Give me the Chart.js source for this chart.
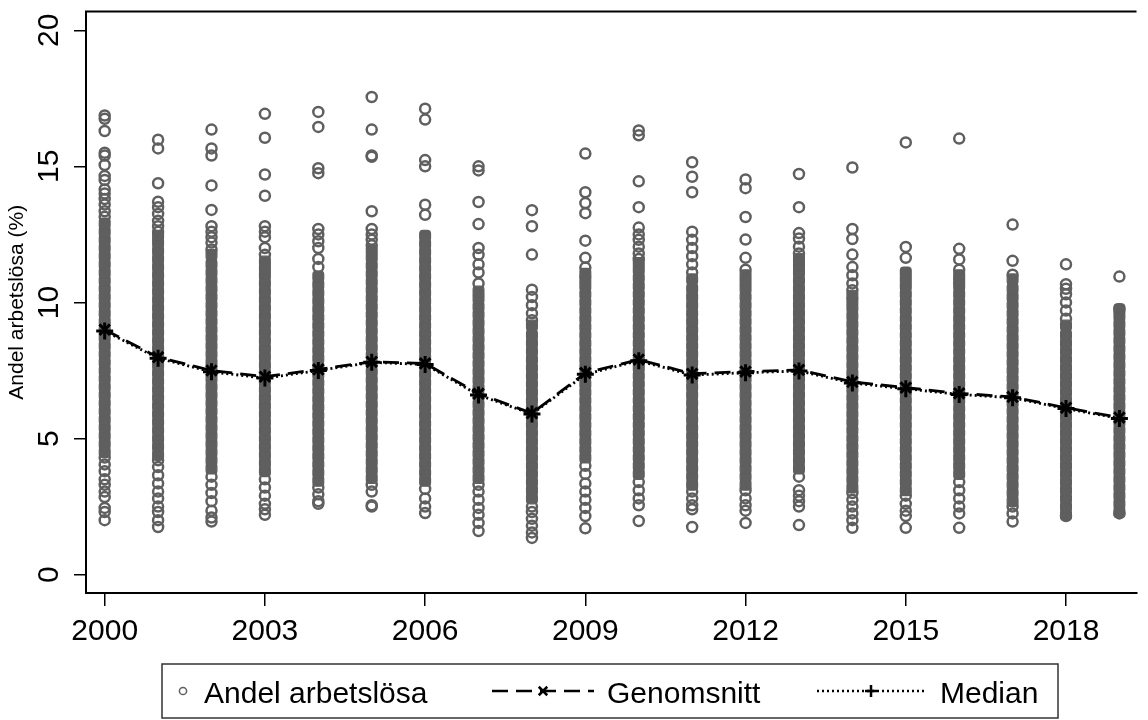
<!DOCTYPE html>
<html>
<head>
<meta charset="utf-8">
<script src="https://cdn.jsdelivr.net/npm/chart.js@4.4.1/dist/chart.umd.min.js"></script>
<style>
  html, body { margin: 0; padding: 0; background: #fff; }
</style>
</head>
<body>
<canvas id="chart" width="1148" height="720"></canvas>
<script>
const years = [2000, 2001, 2002, 2003, 2004, 2005, 2006, 2007, 2008, 2009,
               2010, 2011, 2012, 2013, 2014, 2015, 2016, 2017, 2018, 2019];

const meanRate   = [9.0, 7.99, 7.5, 7.27, 7.54, 7.82, 7.76, 6.65, 5.93, 7.41,
                    7.9, 7.38, 7.46, 7.52, 7.08, 6.87, 6.66, 6.53, 6.13, 5.77];
const medianRate = [8.95, 7.95, 7.45, 7.22, 7.5, 7.8, 7.72, 6.6, 5.9, 7.36,
                    7.86, 7.33, 7.42, 7.48, 7.04, 6.83, 6.62, 6.5, 6.1, 5.74];

const xTickYears = [2000, 2003, 2006, 2009, 2012, 2015, 2018];
const yTickValues = [0, 5, 10, 15, 20];

// kommuner som ligger glest (toppar och bottnar), per år
const sparseRates = [
  [16.87, 16.75, 16.3, 15.5, 15.4, 15.05, 14.65, 14.5, 14.15, 14.0, 13.8, 13.6, 13.35, 13.15, 4.3, 4.05, 3.8, 3.5, 3.3, 3.05, 2.85, 2.45, 2.3, 2.0],
  [15.98, 15.66, 14.38, 13.7, 13.5, 13.25, 13.0, 12.8, 12.6, 4.2, 3.95, 3.65, 3.35, 3.05, 2.8, 2.5, 2.3, 2.0, 1.75],
  [16.35, 15.66, 15.4, 14.3, 13.4, 12.8, 12.6, 12.4, 12.2, 11.95, 3.6, 3.3, 3.0, 2.7, 2.35, 2.1, 1.95],
  [16.93, 16.05, 14.7, 13.92, 12.8, 12.6, 12.4, 12.0, 11.75, 3.5, 3.2, 2.9, 2.6, 2.4, 2.2],
  [17.0, 16.45, 14.93, 14.75, 12.7, 12.5, 12.25, 12.0, 11.6, 11.3, 3.2, 2.95, 2.7, 2.6],
  [17.55, 16.35, 15.4, 15.35, 13.35, 12.7, 12.5, 12.3, 12.1, 3.3, 3.05, 2.55, 2.5],
  [17.12, 16.72, 15.23, 15.0, 13.59, 13.22, 3.15, 2.8, 2.5, 2.26],
  [15.0, 14.85, 13.69, 12.88, 12.0, 11.75, 11.4, 11.1, 10.7, 3.3, 3.05, 2.75, 2.45, 2.2, 1.9, 1.6],
  [13.39, 12.8, 11.76, 10.47, 10.2, 9.9, 9.6, 9.35, 2.5, 2.3, 2.05, 1.8, 1.55, 1.35],
  [15.47, 14.05, 13.65, 13.28, 12.27, 11.64, 11.28, 4.0, 3.7, 3.35, 3.05, 2.75, 2.45, 2.15, 1.7],
  [16.32, 16.14, 14.45, 13.5, 12.75, 12.5, 12.3, 12.05, 11.8, 11.6, 3.4, 3.1, 2.8, 2.55, 1.97],
  [15.15, 14.62, 14.05, 12.6, 12.3, 12.0, 11.7, 11.4, 11.1, 3.05, 2.8, 2.55, 2.4, 1.75],
  [14.52, 14.2, 13.14, 12.31, 11.64, 11.2, 3.1, 2.8, 2.55, 2.35, 1.9],
  [14.72, 13.5, 12.55, 12.35, 12.05, 11.8, 3.6, 3.1, 2.9, 2.7, 2.5, 1.82],
  [14.96, 12.7, 12.33, 11.76, 11.3, 11.0, 10.7, 10.45, 3.0, 2.75, 2.5, 2.25, 2.0, 1.72],
  [15.88, 12.04, 11.64, 2.9, 2.6, 2.35, 2.15, 1.72],
  [16.02, 11.97, 11.58, 11.2, 3.4, 3.1, 2.8, 2.5, 2.25, 1.72],
  [12.86, 11.53, 11.02, 2.5, 2.25, 1.95],
  [11.4, 10.67, 10.5, 10.3, 10.0, 9.7, 9.4, 2.15],
  [10.95, 9.75, 2.25]
];

// den täta kärnan av kommuner, per år
const denseRates = [
  [4.5, 4.8, 5.1, 5.4, 5.7, 6.0, 6.3, 6.6, 6.9, 7.2, 7.5, 7.8, 8.1, 8.4, 8.7, 9.0, 9.3, 9.6, 9.9, 10.2, 10.5, 10.8, 11.1, 11.4, 11.7, 12.0, 12.3, 12.6, 12.9],
  [4.4, 4.7, 5.0, 5.3, 5.6, 5.9, 6.2, 6.5, 6.8, 7.1, 7.4, 7.7, 8.0, 8.3, 8.6, 8.9, 9.2, 9.5, 9.8, 10.1, 10.4, 10.7, 11.0, 11.3, 11.6, 11.9, 12.2, 12.45],
  [3.9, 4.2, 4.5, 4.8, 5.1, 5.4, 5.7, 6.0, 6.3, 6.6, 6.9, 7.2, 7.5, 7.8, 8.1, 8.4, 8.7, 9.0, 9.3, 9.6, 9.9, 10.2, 10.5, 10.8, 11.1, 11.4, 11.75],
  [3.8, 4.1, 4.4, 4.7, 5.0, 5.3, 5.6, 5.9, 6.2, 6.5, 6.8, 7.1, 7.4, 7.7, 8.0, 8.3, 8.6, 8.9, 9.2, 9.5, 9.8, 10.1, 10.4, 10.7, 11.0, 11.25, 11.5],
  [3.45, 3.75, 4.05, 4.35, 4.65, 4.95, 5.25, 5.55, 5.85, 6.15, 6.45, 6.75, 7.05, 7.35, 7.65, 7.95, 8.25, 8.55, 8.85, 9.15, 9.45, 9.75, 10.05, 10.35, 10.65, 10.95],
  [3.55, 3.85, 4.15, 4.45, 4.75, 5.05, 5.35, 5.65, 5.95, 6.25, 6.55, 6.85, 7.15, 7.45, 7.75, 8.05, 8.35, 8.65, 8.95, 9.25, 9.55, 9.85, 10.15, 10.45, 10.75, 11.05, 11.35, 11.65, 11.9],
  [3.45, 3.75, 4.05, 4.35, 4.65, 4.95, 5.25, 5.55, 5.85, 6.15, 6.45, 6.75, 7.05, 7.35, 7.65, 7.95, 8.25, 8.55, 8.85, 9.15, 9.45, 9.75, 10.05, 10.35, 10.65, 10.95, 11.25, 11.55, 11.85, 12.15, 12.45],
  [3.55, 3.85, 4.15, 4.45, 4.75, 5.05, 5.35, 5.65, 5.95, 6.25, 6.55, 6.85, 7.15, 7.45, 7.75, 8.05, 8.35, 8.65, 8.95, 9.25, 9.55, 9.85, 10.15, 10.4],
  [2.8, 3.1, 3.4, 3.7, 4.0, 4.3, 4.6, 4.9, 5.2, 5.5, 5.8, 6.1, 6.4, 6.7, 7.0, 7.3, 7.6, 7.9, 8.2, 8.5, 8.8, 9.15],
  [4.3, 4.6, 4.9, 5.2, 5.5, 5.8, 6.1, 6.4, 6.7, 7.0, 7.3, 7.6, 7.9, 8.2, 8.5, 8.8, 9.1, 9.4, 9.7, 10.0, 10.3, 10.6, 10.85, 11.05],
  [3.7, 4.0, 4.3, 4.6, 4.9, 5.2, 5.5, 5.8, 6.1, 6.4, 6.7, 7.0, 7.3, 7.6, 7.9, 8.2, 8.5, 8.8, 9.1, 9.4, 9.7, 10.0, 10.3, 10.6, 10.9, 11.2, 11.45],
  [3.3, 3.6, 3.9, 4.2, 4.5, 4.8, 5.1, 5.4, 5.7, 6.0, 6.3, 6.6, 6.9, 7.2, 7.5, 7.8, 8.1, 8.4, 8.7, 9.0, 9.3, 9.6, 9.9, 10.2, 10.5, 10.85],
  [3.3, 3.6, 3.9, 4.2, 4.5, 4.8, 5.1, 5.4, 5.7, 6.0, 6.3, 6.6, 6.9, 7.2, 7.5, 7.8, 8.1, 8.4, 8.7, 9.0, 9.3, 9.6, 9.9, 10.2, 10.5, 10.75, 11.0],
  [3.9, 4.2, 4.5, 4.8, 5.1, 5.4, 5.7, 6.0, 6.3, 6.6, 6.9, 7.2, 7.5, 7.8, 8.1, 8.4, 8.7, 9.0, 9.3, 9.6, 9.9, 10.2, 10.5, 10.8, 11.1, 11.35, 11.6],
  [3.2, 3.5, 3.8, 4.1, 4.4, 4.7, 5.0, 5.3, 5.6, 5.9, 6.2, 6.5, 6.8, 7.1, 7.4, 7.7, 8.0, 8.3, 8.6, 8.9, 9.2, 9.5, 9.8, 10.05, 10.25],
  [3.1, 3.4, 3.7, 4.0, 4.3, 4.6, 4.9, 5.2, 5.5, 5.8, 6.1, 6.4, 6.7, 7.0, 7.3, 7.6, 7.9, 8.2, 8.5, 8.8, 9.1, 9.4, 9.7, 10.0, 10.3, 10.6, 10.85, 11.1],
  [3.7, 4.0, 4.3, 4.6, 4.9, 5.2, 5.5, 5.8, 6.1, 6.4, 6.7, 7.0, 7.3, 7.6, 7.9, 8.2, 8.5, 8.8, 9.1, 9.4, 9.7, 10.0, 10.3, 10.6, 10.8, 11.0],
  [2.7, 3.0, 3.3, 3.6, 3.9, 4.2, 4.5, 4.8, 5.1, 5.4, 5.7, 6.0, 6.3, 6.6, 6.9, 7.2, 7.5, 7.8, 8.1, 8.4, 8.7, 9.0, 9.3, 9.6, 9.9, 10.2, 10.5, 10.85],
  [2.2, 2.5, 2.8, 3.1, 3.4, 3.7, 4.0, 4.3, 4.6, 4.9, 5.2, 5.5, 5.8, 6.1, 6.4, 6.7, 7.0, 7.3, 7.6, 7.9, 8.2, 8.5, 8.8, 9.15],
  [2.3, 2.6, 2.9, 3.2, 3.5, 3.8, 4.1, 4.4, 4.7, 5.0, 5.3, 5.6, 5.9, 6.2, 6.5, 6.8, 7.1, 7.4, 7.7, 8.0, 8.3, 8.6, 8.9, 9.2, 9.5, 9.75]
];

const pointGrey = '#5f5f5f';
const fontFamily = '"Liberation Sans", Arial, Helvetica, sans-serif';

function toPoints(perYear) {
  const pts = [];
  years.forEach((yr, i) => perYear[i].forEach(v => pts.push({ x: yr, y: v })));
  return pts;
}

Chart.defaults.font.family = fontFamily;

// ram upptill + roterade y-etiketter
const frameAndYLabels = {
  id: 'frameAndYLabels',
  afterDraw(chart) {
    const ctx = chart.ctx;
    const area = chart.chartArea;
    const yScale = chart.scales.y;
    ctx.save();
    ctx.strokeStyle = '#000';
    ctx.lineWidth = 2;
    ctx.beginPath();
    ctx.moveTo(area.left - 1, area.top);
    ctx.lineTo(area.right, area.top);
    ctx.stroke();

    ctx.fillStyle = '#000';
    ctx.font = '30px ' + fontFamily;
    ctx.textAlign = 'center';
    ctx.textBaseline = 'middle';
    yTickValues.forEach(v => {
      ctx.save();
      ctx.translate(50, yScale.getPixelForValue(v));
      ctx.rotate(-Math.PI / 2);
      ctx.fillText(String(v), 0, 0);
      ctx.restore();
    });
    ctx.restore();
  }
};

// förklaring i ruta under diagrammet
const boxLegend = {
  id: 'boxLegend',
  afterDraw(chart) {
    const ctx = chart.ctx;
    const left = 162, right = 1058, top = 664, bottom = 718, mid = 691;
    const slots = [
      { from: 176, to: 190, textX: 204 },
      { from: 492, to: 594, textX: 607 },
      { from: 817, to: 925, textX: 940 }
    ];
    ctx.save();
    ctx.strokeStyle = '#333';
    ctx.lineWidth = 1.5;
    ctx.strokeRect(left, top, right - left, bottom - top);

    const items = chart.data.datasets.filter(d => d.legendSlot !== undefined);
    items.forEach(ds => {
      const s = slots[ds.legendSlot];
      const cx = (s.from + s.to) / 2;
      ctx.save();
      if (ds.type === 'line') {
        ctx.strokeStyle = ds.borderColor;
        ctx.lineWidth = 2.5;
        ctx.setLineDash(ds.borderDash);
        ctx.beginPath();
        ctx.moveTo(s.from, mid);
        ctx.lineTo(s.to, mid);
        ctx.stroke();
        ctx.setLineDash([]);
        ctx.strokeStyle = ds.pointBorderColor;
        ctx.fillStyle = ds.pointBorderColor;
        Chart.helpers.drawPoint(ctx, { pointStyle: ds.pointStyle, radius: 6, borderWidth: 2, rotation: 0 }, cx, mid);
      } else {
        ctx.strokeStyle = pointGrey;
        ctx.fillStyle = 'rgba(0,0,0,0)';
        Chart.helpers.drawPoint(ctx, { pointStyle: 'circle', radius: 3.6, borderWidth: 1.8, rotation: 0 }, cx, mid);
      }
      ctx.restore();
      ctx.fillStyle = '#000';
      ctx.font = '30px ' + fontFamily;
      ctx.textAlign = 'left';
      ctx.textBaseline = 'alphabetic';
      ctx.fillText(ds.label, s.textX, 703);
    });
    ctx.restore();
  }
};

new Chart(document.getElementById('chart'), {
  type: 'scatter',
  data: {
    datasets: [
      {
        type: 'line',
        label: 'Genomsnitt',
        legendSlot: 1,
        order: 0,
        data: years.map((yr, i) => ({ x: yr, y: meanRate[i] })),
        borderColor: '#000',
        borderWidth: 2.8,
        borderDash: [16, 8],
        fill: false,
        pointStyle: 'crossRot',
        pointRadius: 7.5,
        pointBorderWidth: 3,
        pointBorderColor: '#000',
        pointBackgroundColor: '#000'
      },
      {
        type: 'line',
        label: 'Median',
        legendSlot: 2,
        order: 1,
        data: years.map((yr, i) => ({ x: yr, y: medianRate[i] })),
        borderColor: '#000',
        borderWidth: 2.8,
        borderDash: [2, 3],
        fill: false,
        pointStyle: 'cross',
        pointRadius: 8.5,
        pointBorderWidth: 3,
        pointBorderColor: '#000',
        pointBackgroundColor: '#000'
      },
      {
        label: 'Andel arbetslösa',
        legendSlot: 0,
        order: 2,
        data: toPoints(sparseRates),
        pointRadius: 5,
        pointBorderWidth: 2.5,
        borderColor: pointGrey,
        backgroundColor: 'rgba(0,0,0,0)'
      },
      {
        label: 'Andel arbetslösa (tät)',
        order: 3,
        data: toPoints(denseRates),
        pointStyle: 'rectRounded',
        pointRadius: 6.3,
        pointBorderWidth: 1.2,
        borderColor: pointGrey,
        backgroundColor: pointGrey
      }
    ]
  },
  options: {
    responsive: false,
    animation: false,
    events: [],
    layout: { padding: { top: 7, right: 0, bottom: 0, left: 0 } },
    plugins: {
      legend: { display: false },
      tooltip: { enabled: false }
    },
    scales: {
      x: {
        type: 'linear',
        min: 1999.65,
        max: 2019.32,
        afterBuildTicks: s => { s.ticks = xTickYears.map(v => ({ value: v })); },
        afterFit: s => { s.height = 127; },
        border: { display: true, color: '#000', width: 2 },
        grid: { drawOnChartArea: false, drawTicks: true, tickLength: 13, color: '#000', lineWidth: 1.5 },
        ticks: {
          color: '#000',
          font: { size: 30 },
          padding: 8,
          maxRotation: 0,
          autoSkip: false,
          callback: v => String(v)
        }
      },
      y: {
        min: -0.675,
        max: 20.69,
        afterBuildTicks: s => { s.ticks = yTickValues.map(v => ({ value: v })); },
        afterFit: s => { s.width = 86; },
        border: { display: true, color: '#000', width: 2 },
        grid: { drawOnChartArea: false, drawTicks: true, tickLength: 12, color: '#000', lineWidth: 1.5 },
        ticks: { display: false },
        title: {
          display: true,
          text: 'Andel arbetslösa (%)',
          color: '#000',
          font: { size: 21 },
          padding: { top: 5, bottom: 0 }
        }
      }
    }
  },
  plugins: [frameAndYLabels, boxLegend]
});
</script>
</body>
</html>
